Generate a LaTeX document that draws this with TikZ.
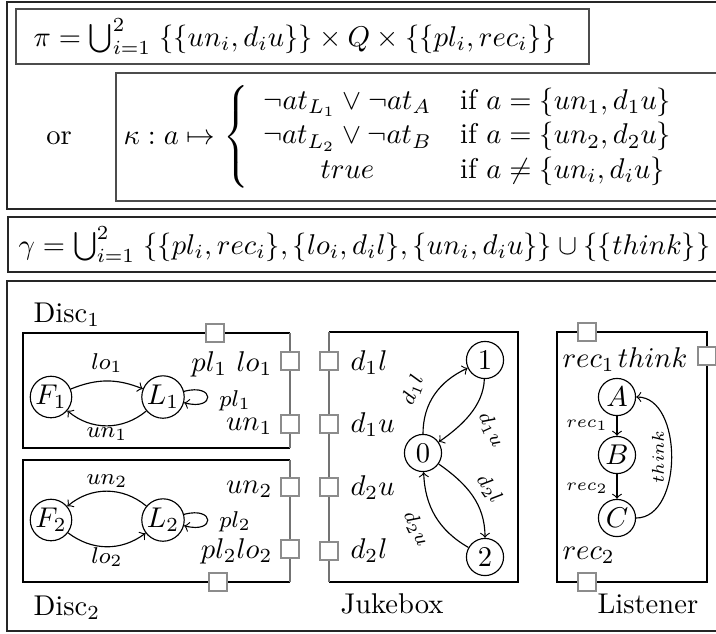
\documentclass[tikz,border=0pt]{standalone}
\usepackage{amsmath}
\begin{document}
\begin{tikzpicture}[x=0.35pt,y=0.35pt,
  outerbox/.style={draw=black!85, line width=0.7pt},
  fbox/.style={draw=black!70, line width=0.6pt},
  comp/.style={draw=black, line width=0.4pt},
  portline/.style={draw=black!55, line width=0.6pt},
  port/.style={rectangle, draw=black!45, line width=1pt, fill=white, minimum size=6.3pt, inner sep=0pt},
  st/.style={circle, draw, line width=0.4pt, minimum size=13pt, inner sep=0.3pt},
  lbl/.style={inner sep=0pt, font=\footnotesize},
  jlbl/.style={inner sep=0pt, font=\scriptsize},
  tlbl/.style={inner sep=0pt, font=\fontsize{6}{7}\selectfont},
  txt/.style={inner sep=0pt},
  tr/.style={->, line width=0.4pt},
  selfloop/.style={->, line width=0.4pt, out=15, in=-15, min distance=4mm}
]
\useasboundingbox (0,0) rectangle (716,-633);
\begin{scope}
\clip (0,0) rectangle (716,-633);
% top block
\draw[outerbox] (7,-2) rectangle (760,-209);
\draw[fbox] (16,-9) rectangle (589,-64);
\node[txt, anchor=west] (pi) at (33,-37) {$\pi = \bigcup_{i=1}^{2}\; \{\{un_i, d_iu\}\} \times Q \times \{\{pl_i, rec_i\}\}$};
\node[txt] (or) at (59,-138) {or};
\draw[fbox] (116,-73) rectangle (760,-201);
\node[txt, anchor=west] (kappa) at (123,-137) {$\kappa : a \mapsto \left\{ \begin{array}{cl} \neg at_{L_1} \vee \neg at_A & \text{if } a = \{un_1, d_1u\}\\ \neg at_{L_2} \vee \neg at_B & \text{if } a = \{un_2, d_2u\}\\ true & \text{if } a \neq \{un_i, d_iu\} \end{array}\right.$};
% gamma
\draw[outerbox] (8,-217) rectangle (760,-272);
\node[txt, anchor=west] (gamma) at (18,-245) {$\gamma = \bigcup_{i=1}^{2}\; \{\{pl_i, rec_i\}, \{lo_i, d_il\}, \{un_i, d_iu\}\} \cup \{\{think\}\}$};
% bottom block
\draw[outerbox] (7,-281) rectangle (760,-631);

% Disc1
\draw[comp] (290,-448) -- (23,-448) -- (23,-333) -- (290,-333);
\draw[portline] (290,-333) -- (290,-448);
\node[port] (d1top) at (215,-333) {};
\node[port] (d1pl) at (290,-361) {};
\node[port] (d1un) at (290,-424) {};
\node[txt, anchor=base west] (disc1) at (33,-322) {Disc$_1$};
\node[txt, anchor=base east] (d1pllab) at (273,-371) {$pl_1\ lo_1$};
\node[txt, anchor=base east] (d1unlab) at (273,-430) {$un_1$};
\node[st] (F1) at (51,-397) {$F_1$};
\node[st] (L1) at (163,-397) {$L_1$};
\draw[tr] (F1) to[bend left=22] (L1);
\draw[tr] (L1) to[bend left=40] (F1);
\draw[selfloop] (L1) to (L1);
\node[lbl] (lo1) at (107,-363) {$lo_1$};
\node[lbl] (un1) at (107,-434) {$un_1$};
\node[lbl] (pl1) at (235,-401) {$pl_1$};

% Disc2
\draw[comp] (290,-582) -- (23,-582) -- (23,-460) -- (290,-460);
\draw[portline] (290,-460) -- (290,-582);
\node[port] (d2un) at (290,-487) {};
\node[port] (d2pl) at (290,-549) {};
\node[port] (d2bot) at (218,-582) {};
\node[txt, anchor=base west] (disc2) at (33,-615) {Disc$_2$};
\node[txt, anchor=base east] (d2unlab) at (273,-493) {$un_2$};
\node[txt, anchor=base east] (d2pllab) at (273,-558) {$pl_2lo_2$};
\node[st] (F2) at (51,-520) {$F_2$};
\node[st] (L2) at (163,-520) {$L_2$};
\draw[tr] (L2) to[bend right=40] (F2);
\draw[tr] (F2) to[bend right=37] (L2);
\draw[selfloop] (L2) to (L2);
\node[lbl] (un2) at (107,-481) {$un_2$};
\node[lbl] (lo2) at (107,-557) {$lo_2$};
\node[lbl] (pl2) at (235,-522) {$pl_2$};

% Jukebox
\draw[comp] (329,-332) -- (518,-332) -- (518,-582) -- (329,-582);
\draw[portline] (329,-332) -- (329,-582);
\node[port] (j1) at (329,-361) {};
\node[port] (j2) at (329,-424) {};
\node[port] (j3) at (329,-487) {};
\node[port] (j4) at (329,-551) {};
\node[txt, anchor=base west] (j1lab) at (350,-370) {$d_1l$};
\node[txt, anchor=base west] (j2lab) at (350,-432) {$d_1u$};
\node[txt, anchor=base west] (j3lab) at (350,-495) {$d_2u$};
\node[txt, anchor=base west] (j4lab) at (350,-558) {$d_2l$};
\node[txt, anchor=base west] (juke) at (340,-613) {Jukebox};
\node[st] (n1) at (485,-360) {$1$};
\node[st] (n0) at (423,-453) {$0$};
\node[st] (n2) at (485,-557) {$2$};
\draw[tr] (n0) to[out=90,in=205] (n1);
\draw[tr] (n1) to[out=-92,in=35,looseness=0.9] (n0);
\draw[tr] (n0) to[out=-35,in=90] (n2);
\draw[tr] (n2) to[out=150,in=-88] (n0);
\node[jlbl, rotate=68] (e01) at (413,-390) {$d_1l$};
\node[jlbl, rotate=-65] (e10) at (491,-430) {$d_1u$};
\node[jlbl, rotate=-55] (e02) at (489,-489) {$d_2l$};
\node[jlbl, rotate=-65] (e20) at (416,-529) {$d_2u$};

% Listener
\draw[comp] (557,-332) rectangle (707,-582);
\node[port] (ltop) at (587,-332) {};
\node[port] (lright) at (707,-356) {};
\node[port] (lbot) at (587,-582) {};
\node[txt, anchor=base west] (lrec1) at (562,-367) {$rec_1$};
\node[txt, anchor=base east] (lthink) at (688,-367) {$think$};
\node[txt, anchor=base west] (lrec2) at (562,-559) {$rec_2$};
\node[txt, anchor=base west] (listener) at (597,-613) {Listener};
\node[st] (A) at (617,-397) {$A$};
\node[st] (B) at (617,-455) {$B$};
\node[st] (C) at (617,-518) {$C$};
\draw[tr] (A) -- (B);
\draw[tr] (B) -- (C);
\draw[tr] (C) to[out=0,in=0] (A);
\node[tlbl] (r1) at (587,-425) {$rec_1$};
\node[tlbl] (r2) at (587,-488) {$rec_2$};
\node[tlbl, rotate=90] (th) at (658,-457) {$think$};
\end{scope}
\end{tikzpicture}
\end{document}
